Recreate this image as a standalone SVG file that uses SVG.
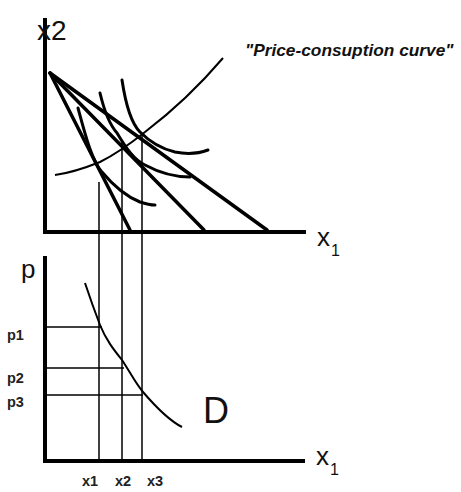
<svg xmlns="http://www.w3.org/2000/svg" width="461" height="492" viewBox="0 0 461 492">
<style>
.axis{stroke:#000;stroke-width:4;fill:none;stroke-linecap:square}
.bl{stroke:#000;stroke-width:3.5;fill:none;stroke-linecap:round}
.ic{stroke:#000;stroke-width:3;fill:none;stroke-linecap:round}
.thin{stroke:#000;stroke-width:2;fill:none}
.guide{stroke:#000;stroke-width:1.5;fill:none}
.lbl{font-family:"Liberation Sans",Arial,sans-serif;fill:#111}
.small{font-family:"Liberation Sans",Arial,sans-serif;font-weight:bold;font-size:14.5px;fill:#222}
</style>
<rect width="461" height="492" fill="#fff"/>
<g id="top-axes">
<line class="axis" x1="45" y1="20" x2="45" y2="232"/>
<line class="axis" x1="45" y1="232" x2="304" y2="232"/>
</g>
<g id="budget-lines">
<line class="bl" x1="50" y1="73" x2="130" y2="230"/>
<line class="bl" x1="50" y1="73" x2="204" y2="230"/>
<line class="bl" x1="50" y1="73" x2="267" y2="230"/>
</g>
<g id="indifference-curves">
<path class="ic" d="M78,108 C84,130 92,162 102,172 C112,184 125,196 140,202 C146,204 150,205 155,205"/>
<path class="ic" d="M100,93 C104,110 110,125 117,133 C126,148 134,160 145,165 C158,172 175,177 190,177"/>
<path class="ic" d="M122,80 C125,100 130,122 140,132 C150,142 162,149 175,152 C190,155 200,153 208,150"/>
</g>
<g id="price-consumption-curve">
<path class="thin" d="M55,175 C70,173 85,168 100,162 C120,152 135,140 145,132 C170,113 200,85 223,58"/>
</g>
<g id="connectors">
<line class="guide" x1="99" y1="182" x2="99" y2="461"/>
<line class="guide" x1="122" y1="140" x2="122" y2="461"/>
<line class="guide" x1="142" y1="133" x2="142" y2="461"/>
<line class="guide" x1="47" y1="327" x2="102" y2="327"/>
<line class="guide" x1="47" y1="368" x2="124" y2="368"/>
<line class="guide" x1="47" y1="395" x2="143" y2="395"/>
</g>
<g id="bottom-axes">
<line class="axis" x1="45" y1="258" x2="45" y2="461"/>
<line class="axis" x1="45" y1="461" x2="303" y2="461"/>
</g>
<g id="demand-curve">
<path class="thin" d="M85,283 C90,298 95,312 100,325 C106,340 114,350 122,360 C130,372 136,384 143,392 C155,406 168,420 182,427"/>
</g>
<g id="labels">
<text class="lbl" x="37" y="40" font-size="28">x2</text>
<text class="lbl" x="245" y="56" font-size="17.3" font-style="italic" font-weight="bold" fill="#333">"Price-consuption curve"</text>
<text class="lbl" x="317" y="246" font-size="26">x</text>
<text class="lbl" x="331" y="256" font-size="16">1</text>
<text class="lbl" x="21" y="278" font-size="26">p</text>
<text class="small" x="7" y="340">p1</text>
<text class="small" x="7" y="383">p2</text>
<text class="small" x="7" y="407">p3</text>
<text class="lbl" x="203" y="423" font-size="36">D</text>
<text class="lbl" x="316" y="465" font-size="26">x</text>
<text class="lbl" x="330" y="475" font-size="16">1</text>
<text class="small" x="82" y="486" font-size="16">x1</text>
<text class="small" x="115" y="486" font-size="16">x2</text>
<text class="small" x="147" y="486" font-size="16">x3</text>
</g>
</svg>
